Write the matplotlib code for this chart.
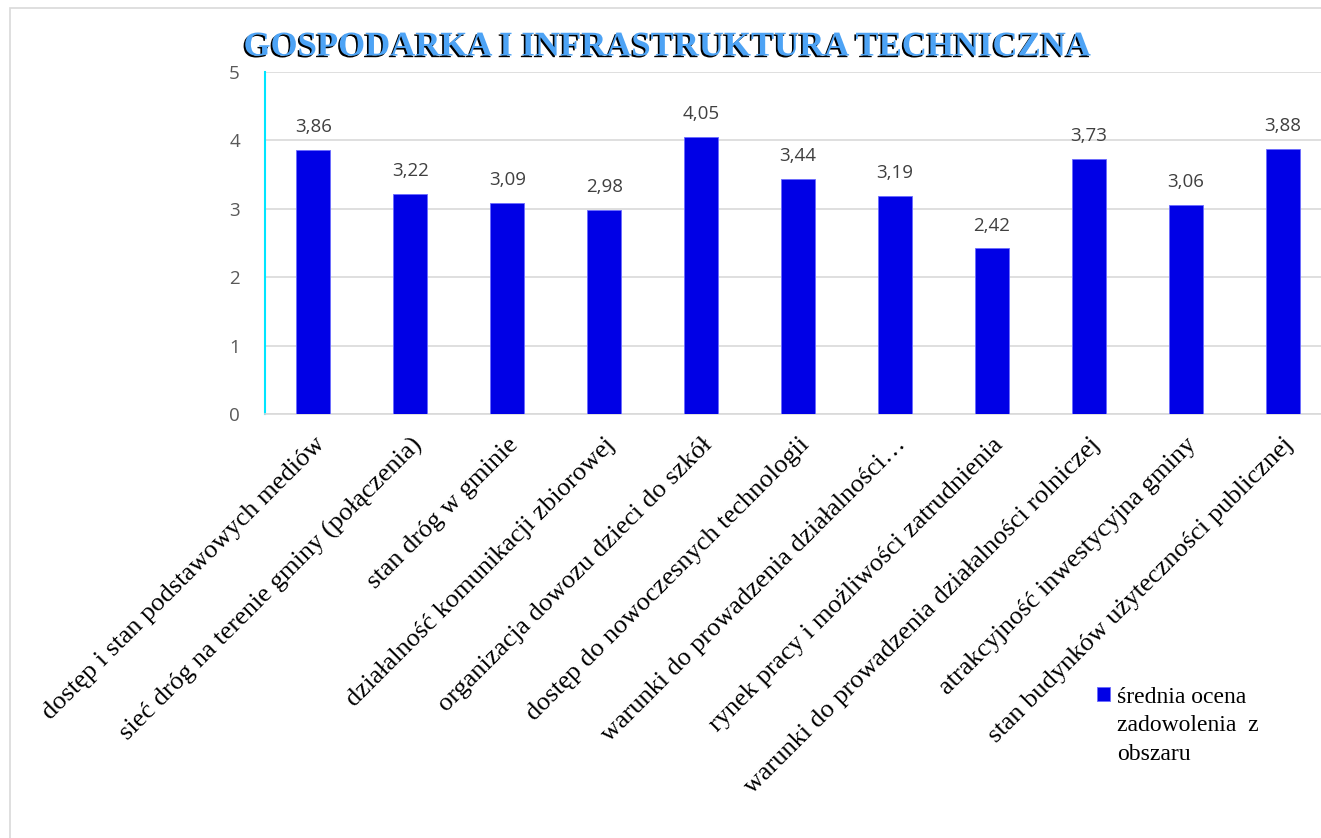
import matplotlib.pyplot as plt
import matplotlib.patheffects as pe
from matplotlib.patches import Rectangle

# Data: average satisfaction ratings
categories = [
    "dostęp i stan podstawowych mediów",
    "sieć dróg na terenie gminy (połączenia)",
    "stan dróg w gminie",
    "działalność komunikacji zbiorowej",
    "organizacja dowozu dzieci do szkół",
    "dostęp do nowoczesnych technologii",
    "warunki do prowadzenia działalności…",
    "rynek pracy i możliwości zatrudnienia",
    "warunki do prowadzenia działalności rolniczej",
    "atrakcyjność inwestycyjna gminy",
    "stan budynków użyteczności publicznej",
]
values = [3.86, 3.22, 3.09, 2.98, 4.05, 3.44, 3.19, 2.42, 3.73, 3.06, 3.88]
series_name = "średnia ocena\nzadowolenia  z\nobszaru"
title = "GOSPODARKA I INFRASTRUKTURA TECHNICZNA"

W, H = 1321, 838
fig = plt.figure(figsize=(W / 100, H / 100), dpi=100)

# outer frame of the embedded chart
fig.patches.append(Rectangle((10 / W, -0.01), 1.0, 1 - 8 / H + 0.01, transform=fig.transFigure,
                             fill=False, edgecolor="#d9d9d9", linewidth=1.2))

ax = fig.add_axes([265 / W, 1 - 414 / H, (1331 - 265) / W, (414 - 72) / H])
x = range(len(categories))
ax.bar(x, values, width=0.35, color="#0000E6", edgecolor="#6b6bff", linewidth=0.6,
       label=series_name, zorder=3)

for i, v in zip(x, values):
    ax.annotate(f"{v:.2f}".replace(".", ","), (i, v), xytext=(0, 10), textcoords="offset points",
                ha="center", va="bottom", fontsize=13.5, color="#404040", family="Open Sans")

ax.set_xlim(-0.5, len(categories) - 0.5)
ax.set_ylim(0, 5)
ax.set_yticks(range(6))
ax.yaxis.grid(True, color="#d9d9d9", linewidth=1.2, zorder=0)
ax.tick_params(axis="y", length=0, pad=18, labelsize=13.5, labelcolor="#595959")
ax.tick_params(axis="x", length=0, pad=14)
for lbl in ax.get_yticklabels():
    lbl.set_family("Open Sans")

ax.set_xticks(list(x))
ax.set_xticklabels(categories, rotation=45, ha="right", rotation_mode="anchor",
                   family="Liberation Serif", fontsize=19)

for s in ["top", "right"]:
    ax.spines[s].set_visible(False)
ax.spines["left"].set_color("#00e5ff")
ax.spines["left"].set_linewidth(1.5)
ax.spines["bottom"].set_color("#d9d9d9")
ax.spines["bottom"].set_linewidth(1.2)

fig.text(668 / W, 1 - 47 / H, title, ha="center", va="center", family="Liberation Serif",
         fontsize=25, fontweight="bold", color="#4da3f5",
         path_effects=[pe.withSimplePatchShadow(offset=(-1.2, -1.2), shadow_rgbFace="black", alpha=1)])

leg = fig.legend(loc="upper left", bbox_to_anchor=(1076 / W, 1 - 666 / H), frameon=False,
                 prop={"family": "Liberation Serif", "size": 17}, handlelength=0.55,
                 handleheight=0.55, handletextpad=0.3, labelspacing=0.2)
leg.get_texts()[0].set_linespacing(1.45)
# put the square next to the first line of the label
for col in leg._legend_handle_box.get_children():
    for hp in col.get_children():
        hp.align = "top"

fig.savefig("out.png", dpi=100)
